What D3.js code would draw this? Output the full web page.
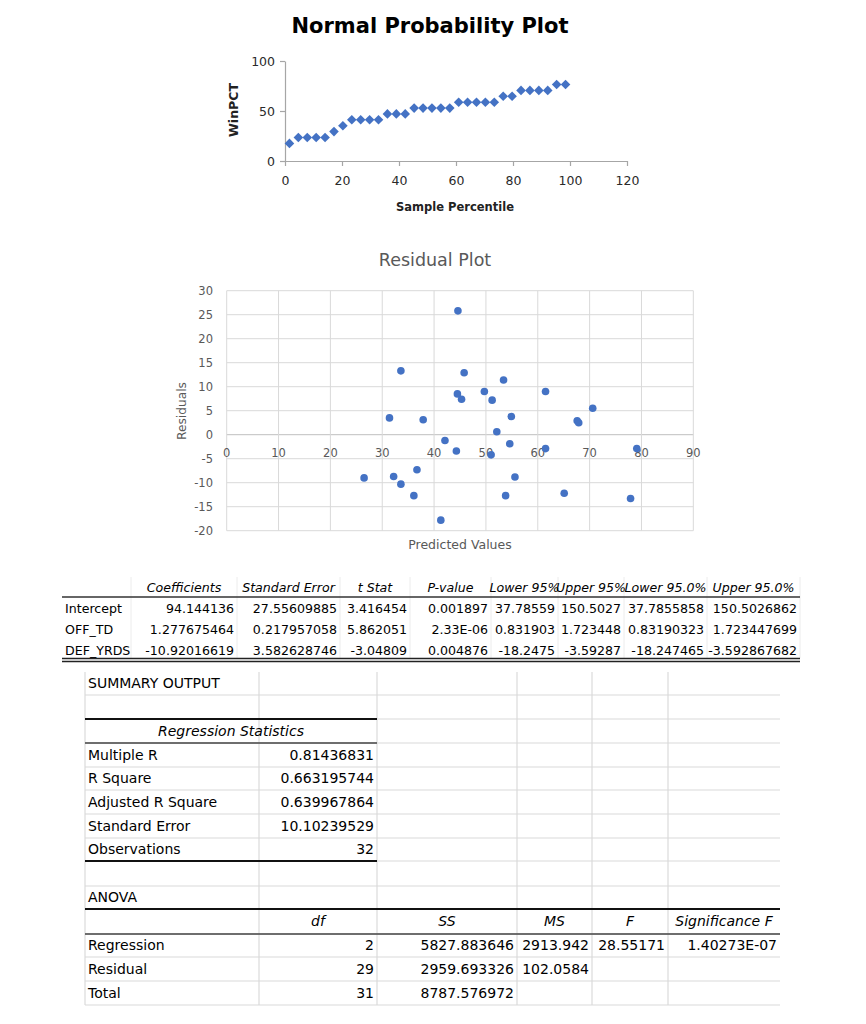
<!DOCTYPE html>
<html><head><meta charset="utf-8">
<script src="https://cdn.jsdelivr.net/npm/d3@7"></script>
<style>
body{margin:0;background:#fff}
svg{display:block}
text{font-family:"DejaVu Sans",sans-serif}
</style>
</head><body>
<svg id="c" width="866" height="1024"></svg>
<script>
// ---------- data ----------
const npPercentile = [1.5625, 4.6875, 7.8125, 10.9375, 14.0625, 17.1875, 20.3125, 23.4375, 26.5625, 29.6875, 32.8125, 35.9375, 39.0625, 42.1875, 45.3125, 48.4375, 51.5625, 54.6875, 57.8125, 60.9375, 64.0625, 67.1875, 70.3125, 73.4375, 76.5625, 79.6875, 82.8125, 85.9375, 89.0625, 92.1875, 95.3125, 98.4375];
const npWinPct = [17.6, 23.5, 23.5, 23.5, 23.5, 29.4, 35.3, 41.2, 41.2, 41.2, 41.2, 47.1, 47.1, 47.1, 52.9, 52.9, 52.9, 52.9, 52.9, 58.8, 58.8, 58.8, 58.8, 58.8, 64.7, 64.7, 70.6, 70.6, 70.6, 70.6, 76.5, 76.5];
const npXTicks = [0, 20, 40, 60, 80, 100, 120];
const npYTicks = [0, 50, 100];

const residPredicted = [44.6, 33.6, 44.5, 45.3, 45.8, 49.7, 53.4, 51.2, 61.5, 70.6, 54.9, 67.6, 67.9, 52.1, 42.1, 54.6, 61.5, 79.1, 44.3, 51.0, 55.6, 53.8, 65.1, 77.9, 41.3, 31.4, 37.9, 26.5, 32.2, 33.6, 36.7, 36.1];
const residValues = [25.8, 13.3, 8.5, 7.4, 12.9, 9.0, 11.4, 7.2, 9.0, 5.5, 3.8, 2.9, 2.5, 0.6, -1.2, -1.9, -2.9, -2.9, -3.4, -4.2, -8.8, -12.7, -12.2, -13.3, -17.8, 3.5, 3.1, -9.0, -8.7, -10.3, -7.3, -12.7];
const residXTicks = [0, 10, 20, 30, 40, 50, 60, 70, 80, 90];
const residYTicks = [-20, -15, -10, -5, 0, 5, 10, 15, 20, 25, 30];

const coefHeaders = ["", "Coefficients", "Standard Error", "t Stat", "P-value", "Lower 95%", "Upper 95%", "Lower 95.0%", "Upper 95.0%"];
const coefRowLabels = ["Intercept", "OFF_TD", "DEF_YRDS"];
const coefIntercept = ["94.144136", "27.55609885", "3.416454", "0.001897", "37.78559", "150.5027", "37.7855858", "150.5026862"];
const coefOffTd = ["1.277675464", "0.217957058", "5.862051", "2.33E-06", "0.831903", "1.723448", "0.83190323", "1.723447699"];
const coefDefYrds = ["-10.92016619", "3.582628746", "-3.04809", "0.004876", "-18.2475", "-3.59287", "-18.247465", "-3.592867682"];

const summaryTitle = "SUMMARY OUTPUT";
const regStatTitle = "Regression Statistics";
const regStatLabels = ["Multiple R", "R Square", "Adjusted R Square", "Standard Error", "Observations"];
const regStatValues = ["0.81436831", "0.663195744", "0.639967864", "10.10239529", "32"];

const anovaTitle = "ANOVA";
const anovaHeaders = ["", "df", "SS", "MS", "F", "Significance F"];
const anovaRegression = ["Regression", "2", "5827.883646", "2913.942", "28.55171", "1.40273E-07"];
const anovaResidual = ["Residual", "29", "2959.693326", "102.0584", "", ""];
const anovaTotal = ["Total", "31", "8787.576972", "", "", ""];

// ---------- drawing ----------
const svg = d3.select("#c");
svg.append("rect").attr("width", 866).attr("height", 1024).attr("fill", "#fff");
const blue = "#4472C4";

// ===== Normal Probability Plot =====
const x1 = d3.scaleLinear().domain([0, 120]).range([285, 627]);
const y1 = d3.scaleLinear().domain([0, 100]).range([161, 61]);

svg.append("text").attr("x", 430).attr("y", 33).attr("text-anchor", "middle")
  .attr("font-weight", "bold").attr("font-size", 21).attr("fill", "#000")
  .text("Normal Probability Plot");

function styleAxis(g, color, fs, txtColor) {
  g.attr("font-family", null).attr("font-size", null);
  g.selectAll(".domain").attr("stroke", color).attr("stroke-width", 1.2);
  g.selectAll(".tick line").attr("stroke", color).attr("stroke-width", 1.2);
  g.selectAll(".tick text").attr("font-size", fs).attr("fill", txtColor)
    .attr("font-family", "'DejaVu Sans',sans-serif");
}

const gx1 = svg.append("g").attr("transform", `translate(0,${y1(0)})`)
  .call(d3.axisBottom(x1).tickValues(npXTicks).tickSizeInner(5).tickSizeOuter(0).tickPadding(10));
styleAxis(gx1, "#a6a6a6", 12.5, "#2a2a2a");
const gy1 = svg.append("g").attr("transform", `translate(${x1(0)},0)`)
  .call(d3.axisLeft(y1).tickValues(npYTicks).tickSizeInner(5).tickSizeOuter(0).tickPadding(5));
styleAxis(gy1, "#a6a6a6", 12.5, "#2a2a2a");

svg.append("g").selectAll("path").data(npPercentile).join("path")
  .attr("d", "M0,-4.8L4.8,0L0,4.8L-4.8,0Z")
  .attr("transform", (d, i) => `translate(${x1(d)},${y1(npWinPct[i])})`)
  .attr("fill", blue);

svg.append("text").attr("transform", "translate(238,110) rotate(-90)")
  .attr("text-anchor", "middle").attr("font-weight", "bold").attr("font-size", 12.5)
  .attr("fill", "#222").text("WinPCT");
svg.append("text").attr("x", 455).attr("y", 211).attr("text-anchor", "middle")
  .attr("font-weight", "bold").attr("font-size", 11.5).attr("fill", "#222")
  .text("Sample Percentile");

// ===== Residual Plot =====
const x2 = d3.scaleLinear().domain([0, 90]).range([226.7, 693.3]);
const y2 = d3.scaleLinear().domain([-20, 30]).range([530.7, 290.7]);
const grey = "#595959";

svg.append("text").attr("x", 435).attr("y", 266).attr("text-anchor", "middle")
  .attr("font-size", 17.5).attr("fill", grey).text("Residual Plot");

const grid = svg.append("g");
grid.selectAll("line.h").data(residYTicks).join("line").attr("class", "h")
  .attr("x1", x2(0)).attr("x2", x2(90)).attr("y1", d => y2(d)).attr("y2", d => y2(d))
  .attr("stroke", d => d === 0 ? "#bfbfbf" : "#d9d9d9").attr("stroke-width", 1);
grid.selectAll("line.v").data(residXTicks).join("line").attr("class", "v")
  .attr("x1", d => x2(d)).attr("x2", d => x2(d)).attr("y1", y2(30)).attr("y2", y2(-20))
  .attr("stroke", "#d9d9d9").attr("stroke-width", 1);

svg.append("g").selectAll("text").data(residXTicks).join("text")
  .attr("x", d => x2(d)).attr("y", y2(0) + 18).attr("dy", "0.35em")
  .attr("text-anchor", "middle").attr("font-size", 11.5).attr("fill", grey)
  .text(d => d);
svg.append("g").selectAll("text").data(residYTicks).join("text")
  .attr("x", 213).attr("y", d => y2(d)).attr("dy", "0.35em")
  .attr("text-anchor", "end").attr("font-size", 11.5).attr("fill", grey)
  .text(d => d);

svg.append("g").selectAll("circle").data(residPredicted).join("circle")
  .attr("cx", d => x2(d)).attr("cy", (d, i) => y2(residValues[i])).attr("r", 3.8)
  .attr("fill", blue);

svg.append("text").attr("transform", "translate(186,411) rotate(-90)")
  .attr("text-anchor", "middle").attr("font-size", 12.2).attr("fill", grey).text("Residuals");
svg.append("text").attr("x", 460).attr("y", 549).attr("text-anchor", "middle")
  .attr("font-size", 12.5).attr("fill", grey).text("Predicted Values");

// ===== Coefficients table =====
const cEdges = [62, 131, 237, 340, 410, 491, 558, 624, 707, 800];
const cRowY = [588, 609, 630, 651];
const ct = svg.append("g");
ct.selectAll("line.v").data(cEdges.slice(1)).join("line").attr("class", "v")
  .attr("x1", d => d).attr("x2", d => d).attr("y1", 577).attr("y2", 658)
  .attr("stroke", "#ececec");
ct.append("line").attr("x1", cEdges[0]).attr("x2", cEdges[9]).attr("y1", 597).attr("y2", 597)
  .attr("stroke", "#333").attr("stroke-width", 1.3);
ct.append("line").attr("x1", cEdges[0]).attr("x2", cEdges[9]).attr("y1", 658.5).attr("y2", 658.5)
  .attr("stroke", "#222").attr("stroke-width", 1.4);
ct.append("line").attr("x1", cEdges[0]).attr("x2", cEdges[9]).attr("y1", 661.5).attr("y2", 661.5)
  .attr("stroke", "#222").attr("stroke-width", 1.4);

ct.selectAll("text.h").data(coefHeaders).join("text").attr("class", "h")
  .attr("x", (d, i) => (cEdges[i] + cEdges[i + 1]) / 2).attr("y", cRowY[0]).attr("dy", "0.35em")
  .attr("text-anchor", "middle").attr("font-style", "italic").attr("font-size", 12.6)
  .attr("fill", "#000").text(d => d);
const coefRows = [coefIntercept, coefOffTd, coefDefYrds];
coefRows.forEach((row, r) => {
  ct.append("text").attr("x", cEdges[0] + 3).attr("y", cRowY[r + 1]).attr("dy", "0.35em")
    .attr("font-size", 12.6).attr("fill", "#000").text(coefRowLabels[r]);
  ct.selectAll(`text.r${r}`).data(row).join("text").attr("class", `r${r}`)
    .attr("x", (d, i) => cEdges[i + 2] - 3).attr("y", cRowY[r + 1]).attr("dy", "0.35em")
    .attr("text-anchor", "end").attr("font-size", 12.6).attr("fill", "#000").text(d => d);
});

// ===== Summary output table =====
const sEdges = [85, 259, 377, 517, 592, 668, 780];
const sRows = [672, 695, 719, 743, 767, 790, 814, 838, 861, 886, 909, 934, 957, 981, 1005];
const st = svg.append("g");
st.selectAll("line.h").data(sRows.slice(1)).join("line").attr("class", "h")
  .attr("x1", sEdges[0]).attr("x2", sEdges[6]).attr("y1", d => d).attr("y2", d => d)
  .attr("stroke", "#dadada").attr("stroke-width", 1.2);
st.selectAll("line.v").data(sEdges.slice(0, 6)).join("line").attr("class", "v")
  .attr("x1", d => d).attr("x2", d => d).attr("y1", sRows[0]).attr("y2", sRows[14])
  .attr("stroke", "#dadada").attr("stroke-width", 1.2);

function hline(y, x0, x1_, w, c) {
  st.append("line").attr("x1", x0).attr("x2", x1_).attr("y1", y).attr("y2", y)
    .attr("stroke", c).attr("stroke-width", w);
}
hline(sRows[2], sEdges[0], sEdges[2], 2.2, "#111");
hline(sRows[3], sEdges[0], sEdges[2], 1.5, "#444");
hline(sRows[8], sEdges[0], sEdges[2], 2.2, "#111");
hline(sRows[10], sEdges[0], sEdges[6], 2.2, "#111");
hline(sRows[11], sEdges[0], sEdges[6], 1.5, "#444");

const rc = i => (sRows[i] + sRows[i + 1]) / 2;
const fs = 14;
function txt(x, y, s, anchor, italic) {
  st.append("text").attr("x", x).attr("y", y).attr("dy", "0.35em")
    .attr("text-anchor", anchor || "start").attr("font-style", italic ? "italic" : null)
    .attr("font-size", fs).attr("fill", "#000").text(s);
}
txt(sEdges[0] + 3, rc(0), summaryTitle);
txt((sEdges[0] + sEdges[2]) / 2, rc(2), regStatTitle, "middle", true);
regStatLabels.forEach((l, i) => {
  txt(sEdges[0] + 3, rc(3 + i), l);
  txt(sEdges[2] - 3, rc(3 + i), regStatValues[i], "end");
});
txt(sEdges[0] + 3, rc(9), anovaTitle);
anovaHeaders.forEach((h, i) => {
  if (h) txt((sEdges[i] + sEdges[i + 1]) / 2, rc(10), h, "middle", true);
});
[anovaRegression, anovaResidual, anovaTotal].forEach((row, r) => {
  row.forEach((v, i) => {
    if (!v) return;
    if (i === 0) txt(sEdges[0] + 3, rc(11 + r), v);
    else txt(sEdges[i + 1] - 3, rc(11 + r), v, "end");
  });
});
</script>
</body></html>
